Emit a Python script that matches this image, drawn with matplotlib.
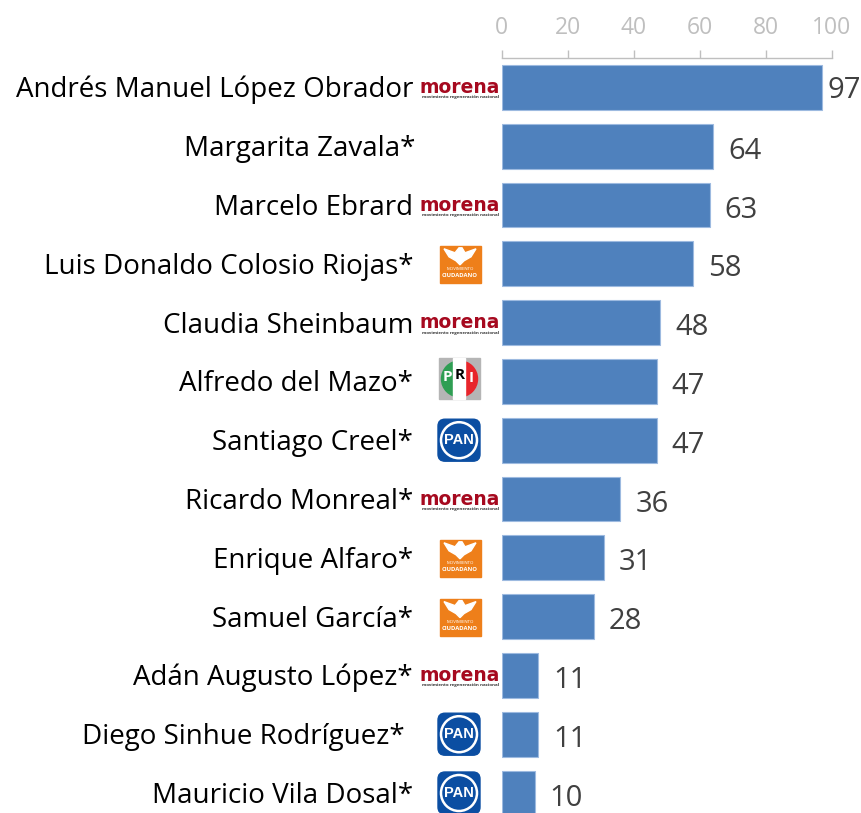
import matplotlib
matplotlib.use('Agg')
import matplotlib.pyplot as plt
from matplotlib.patches import Rectangle, FancyBboxPatch, Ellipse, Polygon, Wedge

plt.rcParams['font.family'] = ['Open Sans', 'DejaVu Sans']

names = ['Andrés Manuel López Obrador', 'Margarita Zavala*', 'Marcelo Ebrard',
         'Luis Donaldo Colosio Riojas*', 'Claudia Sheinbaum', 'Alfredo del Mazo*',
         'Santiago Creel*', 'Ricardo Monreal*', 'Enrique Alfaro*', 'Samuel García*',
         'Adán Augusto López*', 'Diego Sinhue Rodríguez*', 'Mauricio Vila Dosal*']
values = [97, 64, 63, 58, 48, 47, 47, 36, 31, 28, 11, 11, 10]
parties = ['morena', None, 'morena', 'mc', 'morena', 'pri', 'pan', 'morena', 'mc', 'mc',
           'morena', 'pan', 'pan']
ticks = [0, 20, 40, 60, 80, 100]
# donde termina cada nombre, en pixeles
label_right = [413, 415, 413, 413, 413, 413, 413, 413, 413, 413, 413, 405, 413]

W, H = 861, 813
fig = plt.figure(figsize=(W / 100, H / 100), dpi=100)
ax = fig.add_axes([501.5 / W, 0, 330.5 / W, (H - 58) / H])
ax.barh(range(len(values)), values, height=0.765, color='#4F81BD', edgecolor='#9DBAE0', linewidth=0.8)
ax.set_xlim(0, 100)
ax.set_ylim(12.34, -0.5)
ax.xaxis.tick_top()
ax.set_xticks(ticks)
ax.tick_params(axis='x', length=6, width=1, color='#BFBFBF', labelcolor='#BFBFBF', labelsize=16.5, pad=7)
ax.tick_params(axis='y', left=False, labelleft=False)
for s in ['left', 'right', 'bottom']:
    ax.spines[s].set_visible(False)
ax.spines['top'].set_color('#BFBFBF')
ax.spines['top'].set_linewidth(1)

# capa en pixeles para nombres, valores y logos
ov = fig.add_axes([0, 0, 1, 1], facecolor='none')
ov.set_xlim(0, W)
ov.set_ylim(H, 0)
ov.axis('off')


def morena(y):
    ov.text(460, y + 5.5, 'morena', color='#A6091F', fontsize=13.5, fontweight='bold',
            family='DejaVu Sans', ha='center', va='baseline')
    ov.text(460, y + 10, 'movimiento regeneración nacional', color='#333333', fontsize=3.2,
            fontweight='bold', ha='center', va='center')


def mc(y):
    ov.add_patch(Rectangle((439.5, y - 18), 41, 37, color='#EE7F1A'))
    ov.add_patch(Polygon([(444, y - 15), (455, y - 11), (459, y - 16), (462, y - 16), (465, y - 11),
                          (476, y - 15), (471, y - 7), (464, y - 3), (460, y + 1), (456, y - 3), (449, y - 7)],
                         color='white'))
    ov.text(460, y + 5, 'MOVIMIENTO', color='white', fontsize=3.2, ha='center', va='center')
    ov.text(460, y + 12, 'CIUDADANO', color='white', fontsize=4.2, fontweight='bold', ha='center', va='center')


def pri(y):
    ov.add_patch(Rectangle((439, y - 23), 41, 41, color='#B5B5B5'))
    ov.add_patch(Wedge((459.5, y - 2.5), 18, 90, 270, color='#2F9E53'))
    ov.add_patch(Wedge((459.5, y - 2.5), 18, 270, 90, color='#E8252B'))
    ov.add_patch(Rectangle((453, y - 23), 12, 41, color='white'))
    ov.text(447, y - 4, 'P', color='white', fontsize=11, fontweight='bold', ha='center', va='center')
    ov.text(459.5, y - 6, 'R', color='black', fontsize=11, fontweight='bold', ha='center', va='center')
    ov.text(471, y - 3, 'I', color='white', fontsize=11, fontweight='bold', ha='center', va='center')


def pan(y):
    ov.add_patch(FancyBboxPatch((442, y - 17), 34, 34, boxstyle='round,pad=4,rounding_size=7', color='#0B4EA2'))
    ov.add_patch(Ellipse((459, y), 36, 36, facecolor='none', edgecolor='white', linewidth=1.8))
    ov.text(459, y, 'PAN', color='white', fontsize=10.5, fontweight='bold', family='Liberation Sans',
            ha='center', va='center')


logos = {'morena': morena, 'mc': mc, 'pri': pri, 'pan': pan}

for i, (name, val, party, right) in enumerate(zip(names, values, parties, label_right)):
    y = H - ax.transData.transform((0, i))[1]
    ov.text(right, y + 10, name, fontsize=20, color='black', ha='right', va='baseline')
    # la primera etiqueta va pegada porque no cabe
    x_val = ax.transData.transform((val, i))[0]
    off = 5 if i == 0 else 15
    ov.text(x_val + off, y + (3 if i == 0 else 5), str(val), fontsize=21, color='#404040', ha='left', va='center')
    if party:
        logos[party](y)

fig.savefig('out.png', dpi=100)
